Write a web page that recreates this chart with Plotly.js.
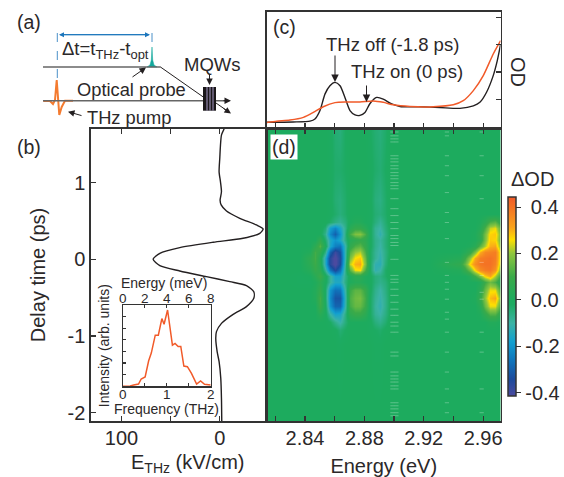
<!DOCTYPE html>
<html><head><meta charset="utf-8">
<script src="https://cdn.plot.ly/plotly-3.0.1.min.js"></script>
<style>html,body{margin:0;padding:0;background:#fff}#c{width:564px;height:477px}</style>
</head><body><div id="c"></div>
<script>
// ---------- panel (c): absorption spectra ----------
const odOffEnergy=[2.8142,2.8321,2.8434,2.8467,2.8501,2.8535,2.8568,2.8602,2.8636,2.8669,2.8703,2.8737,2.8770,2.8804,2.8838,2.8883,2.8927,2.8984,2.9040,2.9174,2.9309,2.9444,2.9534,2.9578,2.9623,2.9668,2.9695,2.9718];
const odOff=[.16,.17,.20,.28,.59,1.20,1.50,1.62,1.50,1.07,.59,.43,.41,.52,.85,1.07,1.01,.83,.74,.73,.70,.67,.76,.89,1.26,1.87,2.41,3.02];
const odOnEnergy=[2.8142,2.8209,2.8299,2.8389,2.8456,2.8523,2.8602,2.8681,2.8770,2.8860,2.8927,2.8995,2.9107,2.9264,2.9399,2.9466,2.9534,2.9601,2.9668,2.9718];
const odOn=[.15,.20,.24,.34,.52,.73,.88,.90,.90,.94,.89,.80,.74,.73,.80,.95,1.32,1.87,2.66,3.15];
// ---------- panel (b): THz waveform ----------
const delayB=[1.70,1.62,1.49,1.32,1.14,1.01,.88,.77,.71,.63,.535,.448,.396,.339,.274,.222,.152,.078,0,-.083,-.152,-.226,-.291,-.343,-.422,-.509,-.617,-.717,-.835,-.943,-1.03,-1.204,-1.335,-1.552,-1.813,-2.109];
const eTHz=[-4.4,-1.7,-.7,0,.7,-.7,-1.7,-.3,-1.4,-6.8,-20.3,-37.3,-44.1,-40.7,-23.7,6.8,40.7,61,67.8,61,40.7,13.6,-10.2,-27.1,-34.6,-34.6,-27.1,-13.6,-1.7,3.4,4.1,2.7,.7,-1,-1.7,-2];
// ---------- inset: THz spectrum ----------
const freqTHz=[0,.17,.25,.36,.42,.51,.59,.65,.74,.81,.89,.94,1.02,1.13,1.19,1.26,1.32,1.39,1.47,1.56,1.68,1.77,1.86,2];
const intensity=[0,.03,.11,.2,.63,.8,2.2,2.86,4.4,4.4,5.83,5.34,6.57,3.54,3.69,3.43,3.43,1.74,1.69,1.14,.2,.46,.17,.11];
// ---------- panel (d): delta OD map ----------
const mapEnergy=[2.8144,2.8265,2.8366, 2.8434,2.8467,2.8501,2.8535, 2.8568,2.8602,2.8636,2.8669, 2.8703,2.8737,2.8770,2.8804, 2.8838,2.8871,2.8905,2.8939,2.8972, 2.9040,2.9242, 2.9444,2.9477,2.9511,2.9545,2.9578,2.9612,2.9646,2.9680,2.9717];
const mapDelay=[-2.11,-1.117,-.922,-.818,-.713,-.609,-.505,-.400,-.296,-.218,-.140,-.061,.017,.095,.173,.252,.330,.408,.486,.591,.773,1.164,1.70];
const r00=[0,0,0, 0,0,0,0, 0,0,0,0, 0,0,0,0, 0,0,0,0,0, 0,0, 0,0,0,0,0,0,0,0,0];
const r01=[0,0,0, 0,0,0,0, 0,0,-.01,0, 0,0,0,0, 0,-.01,-.01,0,0, 0,0, 0,0,0,0,0,0,0,0,0];
const r02=[0,0,0, 0,0,0,0, 0,-.01,-.04,-.02, 0,0,0,0, -.01,-.02,-.03,-.01,0, 0,0, 0,0,0,0,0,0,0,0,0];
const r03=[0,0,0, 0,0,0,0, -.02,-.07,-.11,-.05, 0,0,0,0, -.01,-.05,-.07,-.04,0, 0,0, 0,0,0,0,0,0,.02,.02,0];
const r04=[0,0,0, 0,0,.04,0, -.1,-.17,-.16,-.06, .06,.09,.09,.05, -.02,-.08,-.1,-.06,-.01, 0,0, 0,0,0,0,.01,.07,.13,.13,.05];
const r05=[0,0,0, 0,0,.1,0, -.2,-.29,-.29,-.11, .11,.15,.15,.1, -.02,-.09,-.12,-.07,-.01, 0,0, 0,0,0,0,.04,.16,.25,.25,.11];
const r06=[0,0,0, 0,.02,.11,-.02, -.22,-.32,-.32,-.12, .12,.16,.17,.11, -.02,-.08,-.11,-.07,-.01, 0,0, 0,0,0,.01,.08,.2,.29,.31,.16];
const r07=[0,0,0, 0,.02,.08,-.02, -.2,-.27,-.26,-.1, .1,.14,.14,.09, -.01,-.07,-.1,-.06,-.01, 0,0, 0,0,0,0,.05,.16,.25,.25,.1];
const r08=[0,0,-.01, -.01,.01,.05,0, -.09,-.15,-.15,-.06, .01,.03,.03,.01, -.01,-.05,-.07,-.05,-.01, 0,0, 0,0,0,0,.02,.1,.16,.12,.03];
const r09=[0,0,-.01, 0,.04,.1,.01, -.09,-.17,-.17,-.07, .01,.05,.05,.01, -.01,-.05,-.06,-.03,0, 0,0, 0,0,.03,.1,.18,.27,.31,.22,.08];
const r10=[0,0,0, .03,.08,.05,-.08, -.26,-.35,-.27,-.07, .14,.25,.26,.12, -.02,-.12,-.1,-.03,0, 0,0, .02,.08,.16,.27,.35,.38,.39,.34,.15];
const r11=[0,0,0, .05,.1,.03,-.14, -.36,-.43,-.34,-.09, .23,.3,.31,.18, -.02,-.12,-.13,-.05,0, 0,0, .07,.15,.27,.35,.39,.4,.4,.37,.2];
const r12=[0,0,0, .06,.11,.02,-.14, -.36,-.43,-.35,-.11, .18,.26,.28,.16, -.02,-.08,-.12,-.06,0, 0,0, .03,.1,.2,.31,.38,.39,.4,.38,.22];
const r13=[0,0,0, .02,.11,.06,-.06, -.29,-.39,-.33,-.11, .13,.2,.22,.12, -.02,-.08,-.11,-.06,-.01, 0,0, 0,.03,.08,.18,.3,.36,.37,.38,.22];
const r14=[0,0,0, 0,.05,.13,.01, -.16,-.24,-.26,-.11, .07,.12,.14,.08, -.01,-.07,-.1,-.05,-.01, 0,0, 0,0,.01,.04,.14,.22,.3,.31,.17];
const r15=[0,0,0, 0,0,.07,-.03, -.15,-.2,-.16,-.06, .03,.06,.08,.06, -.01,-.07,-.09,-.05,-.01, 0,0, 0,0,0,.01,.05,.18,.28,.27,.15];
const r16=[0,0,0, 0,0,0,-.07, -.22,-.3,-.2,-.06, .11,.18,.19,.12, -.01,-.08,-.12,-.06,-.01, 0,0, 0,0,0,.01,.06,.17,.27,.28,.16];
const r17=[0,0,0, 0,0,0,-.04, -.18,-.23,-.16,-.07, .04,.08,.08,.04, -.01,-.08,-.1,-.05,-.01, 0,0, 0,0,0,0,.03,.12,.23,.25,.13];
const r18=[0,0,0, 0,0,0,0, -.03,-.06,-.08,-.05, 0,.02,.02,0, -.01,-.05,-.08,-.04,0, 0,0, 0,0,0,0,.01,.05,.12,.14,.06];
const r19=[0,0,0, 0,0,0,0, -.01,-.03,-.05,-.03, 0,0,0,0, -.01,-.04,-.05,-.03,0, 0,0, 0,0,0,0,0,0,0,0,0];
const r20=[0,0,0, 0,0,0,0, -.01,-.04,-.05,-.03, 0,0,0,0, -.01,-.05,-.06,-.03,0, 0,0, 0,0,0,0,0,0,0,0,0];
const r21=[0,0,0, 0,0,0,0, -.01,-.03,-.03,-.02, 0,0,0,0, -.01,-.03,-.04,-.02,0, 0,0, 0,0,0,0,0,0,0,0,0];
const r22=[0,0,0, 0,0,0,0, -.01,-.04,-.05,-.02, 0,0,0,0, -.02,-.04,-.05,-.03,0, 0,0, 0,0,0,0,0,0,0,0,0];
const mapValues=[r00,r01,r02,r03,r04,r05,r06,r07,r08,r09,r10,r11,r12,r13,r14,r15,r16,r17,r18,r19,r20,r21,r22];
// faint dropped-pixel columns in the map
const gapDelayA=[1.66,1.61,1.57,1.53,1.35,1.31,1.27,1.22,1.18,1.13,1.09,1.05,1.00,.96,.92,.79,.66,.57,.48,.40,.31,.27,.22,.18,0,-.21,-.26,-.30,-.39,-.47,-.56,-.65,-.73,-.82,-.87,-.95,-1.21,-1.26,-1.47,-1.52,-1.56,-1.60,-1.65,-1.69,-1.87,-1.91,-1.95,-2.00,-2.04];
const gapDelayB=[1.66,1.61,1.35,1.22,1.09,.87,.61,.48,.27,-.04,-.21,-.30,-.39,-.52,-.69,-.78,-.95,-1.21,-1.47,-1.69,-1.87,-2.00];
const gapDelayC=[1.66,1.35,1.09,.79,-.04,-.21,-.43,-.52,-.95,-1.21,-1.69,-2.00];
// ---------- axis ticks ----------
const energyLabelTicks=[2.84,2.88,2.92,2.96];
const energyMinorTicks=[2.82,2.86,2.90,2.94];
const energyAllTicks=[2.82,2.84,2.86,2.88,2.90,2.92,2.94,2.96];
const fieldTicks=[100,0];
const freqTicks=[0,1,2];
const energyMeVTicks=[0,2,4,6,8];
// ---------- colour bar ----------
const cbTickVals=[.4,.2,0,-.2,-.4];
const cbTickText=['\u00a00.4','\u00a00.2','\u00a00.0','-0.2','-0.4'];
const zMin=-.413, zMax=.443;
// ---------- panel (a): schematic pulses ----------
const pumpPulseX=[43.3,50,53,55,56.7,58.3,59.3,61.7,65,73];
const pumpPulseY=[101,101,104,100,80,100,115,107,100.7,100.7];
const probePulseX=[147,150,151.3,152,152.7,154,157,147];
const probePulseY=[67,65,60,47,60,65,67,67];

const W=564,H=477;
const ink='#2b2829', frame='#333', FONT='"Liberation Sans",Arial,sans-serif';
const dx=(a,b)=>[a/W,b/W], dy=(top,bot)=>[1-bot/H,1-top/H];
const f=s=>({family:FONT,size:s,color:ink});
const colorscale=[[0,'#4b4a9f'],[.085,'#1b4a9c'],[.179,'#0f75bc'],[.272,'#12a0d0'],[.366,'#3bb3a4'],[.459,'#1dab62'],[.482,'#1dab5e'],[.599,'#3aaa49'],[.716,'#8fc63e'],[.786,'#ffdf00'],[.845,'#f9a41b'],[1,'#f15a29']];

const gapMarker={symbol:'line-ew',size:3,line:{width:1,color:'rgba(255,255,255,.28)'},color:'rgba(255,255,255,.28)'};
const rep=(v,n)=>Array(n).fill(v);
const traces=[
 {type:'heatmap',x:mapEnergy,y:mapDelay,z:mapValues,xaxis:'x',yaxis:'y',zmin:zMin,zmax:zMax,zsmooth:'best',colorscale,hoverinfo:'skip',
  colorbar:{thicknessmode:'pixels',thickness:8,lenmode:'pixels',len:199,x:507.5/W,xanchor:'left',xpad:0,y:1-296.5/H,yanchor:'middle',ypad:0,
   tickmode:'array',tickvals:cbTickVals,ticktext:cbTickText,ticks:'outside',ticklen:5,tickwidth:1,tickcolor:frame,tickfont:f(20),outlinewidth:1.5,outlinecolor:frame,borderwidth:0}},
 {type:'scatter',mode:'markers',x:rep(2.8989,gapDelayA.length),y:gapDelayA,xaxis:'x',yaxis:'y',marker:gapMarker,showlegend:false},
 {type:'scatter',mode:'markers',x:rep(2.9016,gapDelayA.length),y:gapDelayA,xaxis:'x',yaxis:'y',marker:gapMarker,showlegend:false},
 {type:'scatter',mode:'markers',x:rep(2.9356,gapDelayB.length),y:gapDelayB,xaxis:'x',yaxis:'y',marker:gapMarker,showlegend:false},
 {type:'scatter',mode:'markers',x:rep(2.9590,gapDelayC.length),y:gapDelayC,xaxis:'x',yaxis:'y',marker:gapMarker,showlegend:false},
 {type:'scatter',mode:'lines',x:odOffEnergy,y:odOff,xaxis:'x2',yaxis:'y2',line:{color:'#231f20',width:1.4,shape:'spline',smoothing:.7},showlegend:false},
 {type:'scatter',mode:'lines',x:odOnEnergy,y:odOn,xaxis:'x2',yaxis:'y2',line:{color:'#f15a29',width:1.5,shape:'spline',smoothing:.7},showlegend:false},
 {type:'scatter',mode:'lines',x:eTHz,y:delayB,xaxis:'x3',yaxis:'y3',line:{color:'#231f20',width:1.4,shape:'spline',smoothing:.7},showlegend:false},
 {type:'scatter',mode:'lines',x:freqTHz,y:intensity,xaxis:'x4',yaxis:'y4',line:{color:'#f15a29',width:1.5},showlegend:false},
 {type:'scatter',mode:'lines',x:[0,8],y:[0,0],xaxis:'x5',yaxis:'y4',line:{width:0},opacity:0,showlegend:false},
 {type:'scatter',mode:'lines',x:pumpPulseX,y:pumpPulseY,xaxis:'x9',yaxis:'y9',line:{color:'#f47b30',width:2},showlegend:false},
 {type:'scatter',mode:'lines',x:probePulseX,y:probePulseY,xaxis:'x9',yaxis:'y9',fill:'toself',fillcolor:'#12a89d',line:{color:'#12a89d',width:.5},showlegend:false}
];

const tickStyle={ticks:'inside',tickcolor:frame,tickwidth:1.2};
const base={showgrid:false,zeroline:false,showline:true,linecolor:frame,linewidth:1.6,mirror:true,...tickStyle,ticklen:5,tickfont:f(20),automargin:false};
const layout={
 width:W,height:H,margin:{l:0,r:0,t:0,b:0,pad:0},paper_bgcolor:'#fff',plot_bgcolor:'rgba(0,0,0,0)',showlegend:false,
 xaxis:{...base,domain:dx(267,500.5),range:[2.8144,2.9717],tickmode:'array',tickvals:energyLabelTicks,ticktext:energyLabelTicks.map(v=>v.toFixed(2)),
  minor:{tickmode:'array',tickvals:energyMinorTicks,...tickStyle,ticklen:5},mirror:'ticks',anchor:'y',
  ticklabelstandoff:-2,title:{text:'Energy (eV)',font:f(20),standoff:12}},
 yaxis:{...base,domain:dy(129,421),range:[-2.108,1.699],ticks:'',showticklabels:false,anchor:'x'},
 xaxis2:{...base,domain:dx(267,500.5),range:[2.8144,2.9717],tickmode:'array',tickvals:energyAllTicks,showticklabels:false,anchor:'y2',mirror:true},
 yaxis2:{...base,domain:dy(12,128),range:[-.05,4.2],side:'right',tickmode:'array',tickvals:[1,2,3,4],showticklabels:false,anchor:'x2',mirror:true},
 xaxis3:{...base,domain:dx(91,266),range:[131,-47],tickmode:'array',tickvals:fieldTicks,minor:{tickmode:'array',tickvals:[50],...tickStyle,ticklen:5},mirror:'ticks',anchor:'y3',
  ticklabelstandoff:-2},
 yaxis3:{...base,domain:dy(129,421),range:[-2.108,1.699],tickmode:'array',tickvals:[1,0,-1,-2],ticktext:['1','0','-1','-2'],anchor:'x3',mirror:true,
  ticklabelstandoff:0,title:{text:'Delay time (ps)',font:f(20),standoff:16}},
 xaxis4:{...base,linewidth:1.2,domain:dx(122.7,210.7),range:[0,2],tickmode:'array',tickvals:freqTicks,minor:{tickmode:'array',tickvals:[.5,1.5],...tickStyle,ticklen:3},ticklen:3,tickfont:f(13.5),anchor:'y4',mirror:true,ticklabelstandoff:-5},
 xaxis5:{...base,linewidth:1.2,domain:dx(122.7,210.7),range:[0,8],side:'top',overlaying:'x4',anchor:'y4',tickmode:'array',tickvals:energyMeVTicks,ticklen:3,tickfont:f(13.5),mirror:false,ticklabelstandoff:-5},
 yaxis4:{...base,linewidth:1.2,domain:dy(305,386.3),range:[0,7],tickmode:'array',tickvals:[1,2,3,4,5,6],showticklabels:false,ticklen:3,anchor:'x4',mirror:true,
  title:{text:'Intensity (arb. units)',font:f(14),standoff:8}},
 xaxis9:{domain:[0,1],range:[0,W],visible:false,anchor:'y9',fixedrange:true},
 yaxis9:{domain:[0,1],range:[H,0],visible:false,anchor:'x9',fixedrange:true},
 shapes:[
  ...[[43,67,160,67,'#666',1.5,'solid'],[43,100.7,227,100.7,'#666',1.5,'solid'],[160,66.7,204,97.5,'#231f20',1,'solid'],[216,103,226,110,'#231f20',1,'solid'],
      [57.3,33,57.3,80,'#4a90c8',1,'dash'],[152,33,152,48,'#4a90c8',1,'dash']].map(l=>({type:'line',xref:'x9',yref:'y9',x0:l[0],y0:l[1],x1:l[2],y1:l[3],line:{color:l[4],width:l[5],dash:l[6]},layer:'above'})),
  {type:'rect',xref:'x9',yref:'y9',x0:203,y0:87,x1:216,y1:110.7,fillcolor:'#1a1719',line:{width:0},layer:'above'},
  ...[207,210,213].map(x=>({type:'line',xref:'x9',yref:'y9',x0:x,x1:x,y0:87,y1:110.7,line:{color:'#a89cc8',width:1},layer:'above'}))
 ],
 annotations:[]
};
const ann=(text,x,y,size,xanchor,extra)=>layout.annotations.push(Object.assign({text,x,y,xref:'x9',yref:'y9',xanchor:xanchor||'left',yanchor:'middle',showarrow:false,font:f(size),align:'left'},extra||{}));
const arrow=(x0,y0,x1,y1,color,head,size)=>layout.annotations.push({xref:'x9',yref:'y9',axref:'x9',ayref:'y9',x:x1,y:y1,ax:x0,ay:y0,text:'',showarrow:true,arrowhead:head||2,arrowsize:size||1.3,arrowwidth:1,arrowcolor:color||'#231f20',standoff:0,startstandoff:0});
ann('(a)',14.5,22,19.5);
ann('(b)',14.5,147,19.5);
ann('(c)',270.5,27,19.5);
ann('(d)',270,146.5,19.5,'left',{bgcolor:'#fff',borderpad:1});
ann('\u0394t=t<sub>THz</sub>-t<sub>opt</sub>',59.5,50,18.5);
ann('MQWs',212,64,18.5,'center');
ann('Optical probe',74.5,89,18.3);
ann('THz pump',84.5,117,18.3);
ann('THz off (-1.8 ps)',323.5,44,18.5);
ann('THz on (0 ps)',348.5,71,18.5);
ann('OD',518,72,20,'center',{textangle:90});
ann('\u0394OD',532.5,179,20,'center');
ann('E<sub>THz</sub> (kV/cm)',187,463,20,'center');
ann('Energy (meV)',163.7,283,14,'center');
ann('Frequency (THz)',166,408.5,14,'center');
arrow(150,34.7,59,34.7,'#1b75bc',2,1);
arrow(59,34.7,150,34.7,'#1b75bc',2,1);
arrow(131,78,146,67.5);
arrow(83,116,68,111.7);
arrow(209.5,73,209.5,85);
arrow(222,100.7,231,100.7);
arrow(222,107.5,231,113.5);
arrow(335,54,335,82,'#231f20',2,1.5);
arrow(366.5,84,366.5,102,'#231f20',2,1.5);

Plotly.newPlot('c',traces,layout,{staticPlot:true,displayModeBar:false});
</script></body></html>
